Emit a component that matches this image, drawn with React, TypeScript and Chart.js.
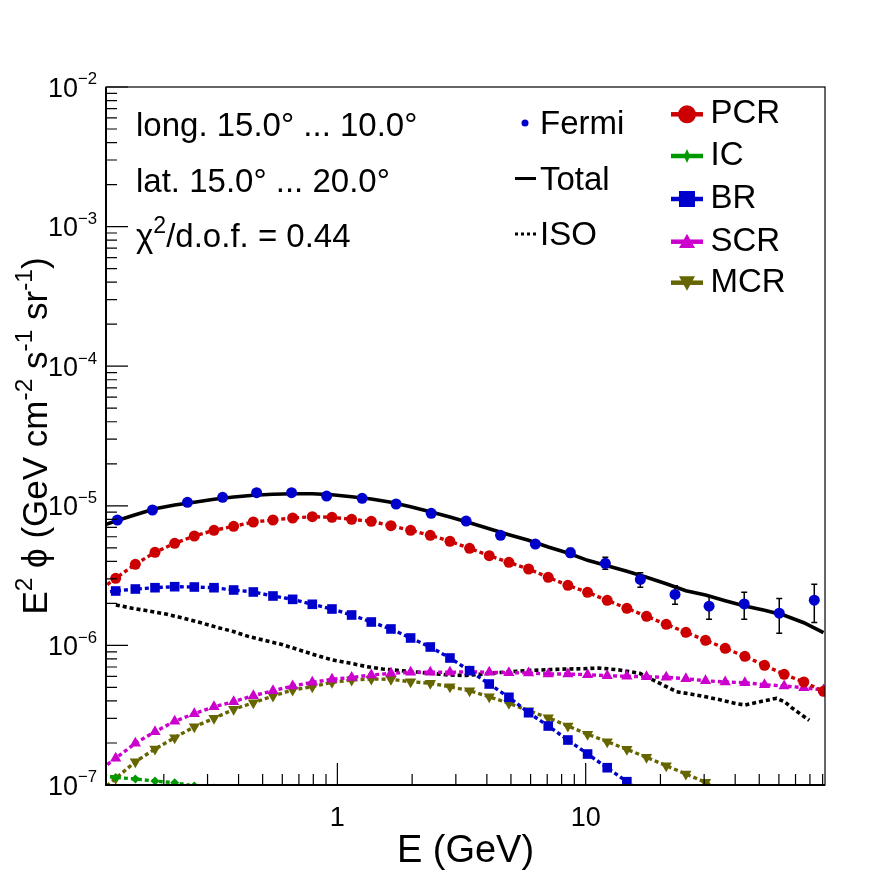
import React, { useEffect, useRef } from 'react';
import { Chart, registerables } from 'chart.js';

Chart.register(...registerables);

const FONT = '"Liberation Sans", Arial, Helvetica, "DejaVu Sans", sans-serif';

// ---------------- data ----------------
const fermiE = [0.130, 0.180, 0.249, 0.345, 0.473, 0.654, 0.905, 1.258, 1.724, 2.387, 3.30, 4.54, 6.27, 8.68, 12.0, 16.6, 22.9, 31.4, 43.5, 60.2, 83.3];
const fermiFlux = [7.91e-6, 9.33e-6, 1.059e-5, 1.151e-5, 1.241e-5, 1.241e-5, 1.175e-5, 1.132e-5, 1.030e-5, 8.84e-6, 7.78e-6, 6.15e-6, 5.32e-6, 4.61e-6, 3.87e-6, 2.97e-6, 2.32e-6, 1.91e-6, 1.98e-6, 1.70e-6, 2.11e-6];
const fermiUpper = [8.15e-6, 9.61e-6, 1.091e-5, 1.186e-5, 1.278e-5, 1.278e-5, 1.210e-5, 1.166e-5, 1.061e-5, 9.11e-6, 8.05e-6, 6.40e-6, 5.58e-6, 4.96e-6, 4.28e-6, 3.32e-6, 2.68e-6, 2.26e-6, 2.40e-6, 2.17e-6, 2.74e-6];
const fermiLower = [7.67e-6, 9.05e-6, 1.027e-5, 1.116e-5, 1.204e-5, 1.204e-5, 1.140e-5, 1.098e-5, 9.99e-6, 8.57e-6, 7.51e-6, 5.90e-6, 5.06e-6, 4.31e-6, 3.51e-6, 2.61e-6, 1.97e-6, 1.54e-6, 1.54e-6, 1.22e-6, 1.46e-6];

const modelE = [0.1067, 0.128, 0.1536, 0.1843, 0.2212, 0.2654, 0.3185, 0.3822, 0.4587, 0.5504, 0.6605, 0.7926, 0.9511, 1.1413, 1.3696, 1.6435, 1.9722, 2.3667, 2.840, 3.408, 4.089, 4.907, 5.889, 7.066, 8.480, 10.176, 12.21, 14.65, 17.58, 21.10, 25.32, 30.38, 36.46, 43.75, 52.50, 63.00, 75.60, 90.72];

const totalFlux = [6.934e-6, 7.781e-6, 8.633e-6, 9.533e-6, 1.0132e-5, 1.0594e-5, 1.1130e-5, 1.1561e-5, 1.1890e-5, 1.2089e-5, 1.2209e-5, 1.2209e-5, 1.2009e-5, 1.1620e-5, 1.1185e-5, 1.0594e-5, 9.853e-6, 9.072e-6, 8.314e-6, 7.567e-6, 6.855e-6, 6.209e-6, 5.659e-6, 5.068e-6, 4.590e-6, 4.069e-6, 3.723e-6, 3.395e-6, 3.075e-6, 2.767e-6, 2.464e-6, 2.296e-6, 2.089e-6, 1.915e-6, 1.784e-6, 1.643e-6, 1.454e-6, 1.233e-6];
const pcrFlux = [2.373e-6, 3.025e-6, 3.809e-6, 4.643e-6, 5.386e-6, 6.076e-6, 6.675e-6, 7.128e-6, 7.656e-6, 7.912e-6, 8.177e-6, 8.354e-6, 8.272e-6, 8.004e-6, 7.745e-6, 7.199e-6, 6.675e-6, 6.146e-6, 5.566e-6, 4.960e-6, 4.390e-6, 3.937e-6, 3.526e-6, 3.075e-6, 2.694e-6, 2.401e-6, 2.103e-6, 1.844e-6, 1.616e-6, 1.416e-6, 1.241e-6, 1.088e-6, 9.532e-7, 8.352e-7, 7.200e-7, 6.209e-7, 5.467e-7, 4.689e-7];
const icFlux = [1.179e-7, 1.132e-7, 1.104e-7, 1.068e-7, 1.038e-7, 9.83e-8, 9.5e-8];
const brFlux = [2.373e-6, 2.453e-6, 2.535e-6, 2.590e-6, 2.633e-6, 2.620e-6, 2.590e-6, 2.494e-6, 2.413e-6, 2.259e-6, 2.138e-6, 1.970e-6, 1.823e-6, 1.651e-6, 1.471e-6, 1.311e-6, 1.130e-6, 9.739e-7, 8.124e-7, 6.589e-7, 5.290e-7, 4.248e-7, 3.295e-7, 2.646e-7, 2.100e-7, 1.667e-7, 1.330e-7, 1.056e-7, 8.5e-8];
const scrFlux = [1.219e-7, 1.553e-7, 1.989e-7, 2.409e-7, 2.859e-7, 3.241e-7, 3.638e-7, 3.951e-7, 4.361e-7, 4.736e-7, 5.118e-7, 5.439e-7, 5.716e-7, 5.888e-7, 6.136e-7, 6.310e-7, 6.415e-7, 6.415e-7, 6.415e-7, 6.479e-7, 6.415e-7, 6.374e-7, 6.343e-7, 6.237e-7, 6.237e-7, 6.166e-7, 6.066e-7, 6.006e-7, 5.966e-7, 5.907e-7, 5.771e-7, 5.584e-7, 5.467e-7, 5.404e-7, 5.229e-7, 5.118e-7, 4.977e-7, 4.791e-7];
const mcrFlux = [8.48e-8, 1.117e-7, 1.468e-7, 1.811e-7, 2.182e-7, 2.616e-7, 3.004e-7, 3.485e-7, 3.887e-7, 4.339e-7, 4.791e-7, 5.059e-7, 5.439e-7, 5.650e-7, 5.744e-7, 5.716e-7, 5.495e-7, 5.351e-7, 5.059e-7, 4.736e-7, 4.289e-7, 3.848e-7, 3.405e-7, 3.034e-7, 2.646e-7, 2.312e-7, 2.042e-7, 1.802e-7, 1.579e-7, 1.375e-7, 1.199e-7, 1.045e-7, 8.9e-8];

const isoE = [0.1282, 0.1495, 0.1745, 0.2039, 0.2378, 0.2777, 0.3243, 0.3782, 0.4417, 0.5159, 0.6018, 0.7029, 0.8206, 0.9573, 1.118, 1.305, 1.522, 1.778, 2.077, 2.423, 2.829, 3.303, 3.854, 4.500, 5.255, 6.132, 7.159, 8.360, 9.752, 11.39, 13.71, 16.51, 18.68, 21.16, 23.21, 27.95, 33.65, 40.52, 43.77, 50.30, 58.74, 63.44, 67.52, 75.19, 79.51];
const isoFlux = [1.948e-6, 1.844e-6, 1.763e-6, 1.678e-6, 1.571e-6, 1.464e-6, 1.354e-6, 1.262e-6, 1.154e-6, 1.081e-6, 1.012e-6, 9.268e-7, 8.494e-7, 7.858e-7, 7.479e-7, 7.058e-7, 6.773e-7, 6.608e-7, 6.447e-7, 6.289e-7, 6.136e-7, 6.085e-7, 6.237e-7, 6.394e-7, 6.532e-7, 6.629e-7, 6.706e-7, 6.773e-7, 6.807e-7, 6.886e-7, 6.662e-7, 6.310e-7, 5.650e-7, 5.059e-7, 4.657e-7, 4.411e-7, 4.130e-7, 3.822e-7, 3.741e-7, 3.951e-7, 4.178e-7, 3.932e-7, 3.579e-7, 3.120e-7, 2.906e-7];

const yDecades = [-7, -6, -5, -4, -3, -2];
const xMajorTicks = [1, 10];
const xMajorLabels = ['1', '10'];
const xMinorTicks = [0.2, 0.3, 0.4, 0.5, 0.6, 0.7, 0.8, 0.9, 2, 3, 4, 5, 6, 7, 8, 9, 20, 30, 40, 50, 60, 70, 80, 90];

const infoLines = ['long. 15.0\u00b0 ... 10.0\u00b0', 'lat. 15.0\u00b0 ... 20.0\u00b0'];
const chiText = '/d.o.f. = 0.44';

const C_RED = '#cc0000';
const C_GREEN = '#009900';
const C_BLUE = '#0000cc';
const C_MAG = '#cc00cc';
const C_OLIVE = '#666600';

const toXY = (xs: number[], ys: number[]) => ys.map((y, i) => ({ x: xs[i], y }));

type Seg = { t: string; sup?: boolean };

function richWidth(ctx: CanvasRenderingContext2D, segs: Seg[], size: number, ratio = 0.7) {
  let w = 0;
  for (const s of segs) {
    ctx.font = `${s.sup ? size * ratio : size}px ${FONT}`;
    w += ctx.measureText(s.t).width;
  }
  return w;
}
function drawRich(ctx: CanvasRenderingContext2D, segs: Seg[], x: number, y: number, size: number, ratio = 0.7, raise = 0.42) {
  let cx = x;
  for (const s of segs) {
    const fs = s.sup ? size * ratio : size;
    ctx.font = `${fs}px ${FONT}`;
    ctx.fillText(s.t, cx, s.sup ? y - size * raise : y);
    cx += ctx.measureText(s.t).width;
  }
}

function drawMarker(ctx: CanvasRenderingContext2D, kind: string, x: number, y: number, r: number, color: string) {
  ctx.fillStyle = color;
  ctx.beginPath();
  if (kind === 'circle') ctx.arc(x, y, r, 0, Math.PI * 2);
  else if (kind === 'square') ctx.rect(x - r, y - r, 2 * r, 2 * r);
  else if (kind === 'up') {
    ctx.moveTo(x, y - r); ctx.lineTo(x + r, y + r * 0.8); ctx.lineTo(x - r, y + r * 0.8); ctx.closePath();
  } else if (kind === 'down') {
    ctx.moveTo(x, y + r); ctx.lineTo(x + r, y - r * 0.8); ctx.lineTo(x - r, y - r * 0.8); ctx.closePath();
  } else if (kind === 'diamond') {
    ctx.moveTo(x, y - r); ctx.lineTo(x + r * 0.45, y); ctx.lineTo(x, y + r); ctx.lineTo(x - r * 0.45, y); ctx.closePath();
  }
  ctx.fill();
}

const rootPlugin = {
  id: 'rootStyle',
  beforeDatasetsDraw(chart: any) {
    const ctx: CanvasRenderingContext2D = chart.ctx;
    const xs = chart.scales.x;
    const ys = chart.scales.y;
    ctx.save();
    ctx.strokeStyle = '#000';
    ctx.lineWidth = 1.5;
    fermiE.forEach((e, i) => {
      const x = xs.getPixelForValue(e);
      const y1 = ys.getPixelForValue(fermiUpper[i]);
      const y2 = ys.getPixelForValue(fermiLower[i]);
      ctx.beginPath();
      ctx.moveTo(x, y1); ctx.lineTo(x, y2);
      ctx.moveTo(x - 3, y1); ctx.lineTo(x + 3, y1);
      ctx.moveTo(x - 3, y2); ctx.lineTo(x + 3, y2);
      ctx.stroke();
    });
    ctx.restore();
  },
  afterDraw(chart: any) {
    const ctx: CanvasRenderingContext2D = chart.ctx;
    const { left, right, top, bottom } = chart.chartArea;
    const xs = chart.scales.x;
    const ys = chart.scales.y;
    ctx.save();
    ctx.fillStyle = '#000';
    ctx.strokeStyle = '#000';
    ctx.textBaseline = 'alphabetic';
    ctx.textAlign = 'left';

    // frame
    ctx.lineWidth = 1.2;
    ctx.strokeRect(left, top, right - left, bottom - top);
    ctx.lineWidth = 2;
    ctx.beginPath();
    ctx.moveTo(left, top); ctx.lineTo(left, bottom); ctx.lineTo(right, bottom);
    ctx.stroke();

    // y ticks
    ctx.lineWidth = 1.2;
    ctx.beginPath();
    yDecades.forEach((d) => {
      const y = ys.getPixelForValue(Math.pow(10, d));
      ctx.moveTo(left, y); ctx.lineTo(left + 22, y);
      if (d < -2) {
        for (let m = 2; m <= 9; m++) {
          const ym = ys.getPixelForValue(m * Math.pow(10, d));
          ctx.moveTo(left, ym); ctx.lineTo(left + 11, ym);
        }
      }
    });
    // x ticks
    xMajorTicks.forEach((v) => {
      const x = xs.getPixelForValue(v);
      ctx.moveTo(x, bottom); ctx.lineTo(x, bottom - 22);
    });
    xMinorTicks.forEach((v) => {
      const x = xs.getPixelForValue(v);
      ctx.moveTo(x, bottom); ctx.lineTo(x, bottom - 11);
    });
    ctx.stroke();

    // y tick labels
    yDecades.forEach((d) => {
      const y = ys.getPixelForValue(Math.pow(10, d));
      const segs: Seg[] = [{ t: '10' }, { t: '\u2212' + Math.abs(d), sup: true }];
      const w = richWidth(ctx, segs, 27, 0.62);
      drawRich(ctx, segs, 97 - w, y + 9.5, 27, 0.62, 0.45);
    });
    // x tick labels
    ctx.font = `27px ${FONT}`;
    ctx.textAlign = 'center';
    xMajorTicks.forEach((v, i) => {
      ctx.fillText(xMajorLabels[i], xs.getPixelForValue(v), 826);
    });
    // x title
    ctx.font = `38px ${FONT}`;
    ctx.fillText('E (GeV)', (left + right) / 2, 862);
    ctx.textAlign = 'left';

    // y title
    const ySegs: Seg[] = [
      { t: 'E' }, { t: '2', sup: true }, { t: ' \u03d5 (GeV cm' }, { t: '-2', sup: true },
      { t: ' s' }, { t: '-1', sup: true }, { t: ' sr' }, { t: '-1', sup: true }, { t: ')' },
    ];
    const ySize = 35;
    const yw = richWidth(ctx, ySegs, ySize);
    ctx.save();
    ctx.translate(47, (top + bottom) / 2);
    ctx.rotate(-Math.PI / 2);
    drawRich(ctx, ySegs, -yw / 2, 0, ySize);
    ctx.restore();

    // info text
    const tSize = 33;
    ctx.font = `${tSize}px ${FONT}`;
    ctx.fillText(infoLines[0], 136, 136);
    ctx.fillText(infoLines[1], 136, 192);
    drawRich(ctx, [{ t: '\u03c7' }, { t: '2', sup: true }, { t: chiText }], 136, 247, tSize);

    // left legend column
    ctx.font = `${tSize}px ${FONT}`;
    drawMarker(ctx, 'circle', 525, 123, 3.5, C_BLUE);
    ctx.fillStyle = '#000';
    ctx.fillText('Fermi', 540, 134);
    ctx.lineWidth = 3;
    ctx.beginPath(); ctx.moveTo(515, 178.5); ctx.lineTo(536, 178.5); ctx.stroke();
    ctx.fillText('Total', 540, 190);
    ctx.setLineDash([3, 3]);
    ctx.beginPath(); ctx.moveTo(515, 234); ctx.lineTo(537, 234); ctx.stroke();
    ctx.setLineDash([]);
    ctx.fillText('ISO', 540, 245);

    // right legend column
    const entries = [
      { label: 'PCR', color: C_RED, kind: 'circle', r: 9, y: 114.3 },
      { label: 'IC', color: C_GREEN, kind: 'diamond', r: 7, y: 156 },
      { label: 'BR', color: C_BLUE, kind: 'square', r: 8, y: 199 },
      { label: 'SCR', color: C_MAG, kind: 'up', r: 8, y: 241.7 },
      { label: 'MCR', color: C_OLIVE, kind: 'down', r: 8, y: 282.7 },
    ];
    entries.forEach((en) => {
      ctx.strokeStyle = en.color;
      ctx.lineWidth = 4.5;
      ctx.beginPath(); ctx.moveTo(671, en.y); ctx.lineTo(703, en.y); ctx.stroke();
      drawMarker(ctx, en.kind, 687, en.y, en.r, en.color);
      ctx.fillStyle = '#000';
      ctx.font = `${tSize}px ${FONT}`;
      ctx.fillText(en.label, 710.5, en.y + 9);
    });
    ctx.restore();
  },
};

const modelDs = (label: string, values: number[], color: string, style: string, radius: number, rotation = 0) => ({
  label,
  data: toXY(modelE, values),
  borderColor: color,
  backgroundColor: color,
  borderWidth: 3.4,
  borderDash: [4, 3],
  borderCapStyle: 'butt',
  pointStyle: style,
  pointRadius: radius,
  pointRotation: rotation,
  pointBackgroundColor: color,
  pointBorderColor: color,
  pointBorderWidth: 0,
  tension: 0,
  clip: 0,
});

export default function App() {
  const ref = useRef<HTMLCanvasElement>(null);
  useEffect(() => {
    if (!ref.current) return;
    const chart = new Chart(ref.current, {
      type: 'line',
      data: {
        datasets: [
          {
            label: 'Fermi',
            data: toXY(fermiE, fermiFlux),
            showLine: false,
            pointStyle: 'circle',
            pointRadius: 5.5,
            pointBackgroundColor: C_BLUE,
            pointBorderColor: C_BLUE,
            pointBorderWidth: 0,
            borderColor: C_BLUE,
            backgroundColor: C_BLUE,
            clip: 0,
          },
          {
            label: 'Total',
            data: toXY(modelE, totalFlux),
            borderColor: '#000',
            borderWidth: 3.6,
            pointRadius: 0,
            tension: 0,
            clip: 0,
          },
          modelDs('PCR', pcrFlux, C_RED, 'circle', 5.5),
          modelDs('IC', icFlux, C_GREEN, 'rectRot', 4.5),
          modelDs('BR', brFlux, C_BLUE, 'rect', 6.8),
          modelDs('SCR', scrFlux, C_MAG, 'triangle', 6.5),
          modelDs('MCR', mcrFlux, C_OLIVE, 'triangle', 6.5, 180),
          {
            label: 'ISO',
            data: toXY(isoE, isoFlux),
            borderColor: '#000',
            borderWidth: 3.6,
            borderDash: [4, 3],
            borderCapStyle: 'butt',
            pointRadius: 0,
            tension: 0,
            clip: 0,
          },
        ] as any,
      },
      options: {
        animation: false,
        responsive: false,
        devicePixelRatio: 1,
        events: [],
        layout: { padding: { left: 106, right: 71, top: 87, bottom: 87 } },
        plugins: { legend: { display: false }, tooltip: { enabled: false }, title: { display: false } },
        scales: {
          x: { type: 'logarithmic', min: 0.117, max: 92, display: false },
          y: { type: 'logarithmic', min: 1e-7, max: 1e-2, display: false },
        },
      } as any,
      plugins: [rootPlugin as any],
    });
    return () => chart.destroy();
  }, []);
  return (
    <div style={{ position: 'absolute', left: 0, top: 0, width: 896, height: 872, background: '#fff' }}>
      <canvas ref={ref} width={896} height={872} style={{ display: 'block', width: 896, height: 872 }} />
    </div>
  );
}
